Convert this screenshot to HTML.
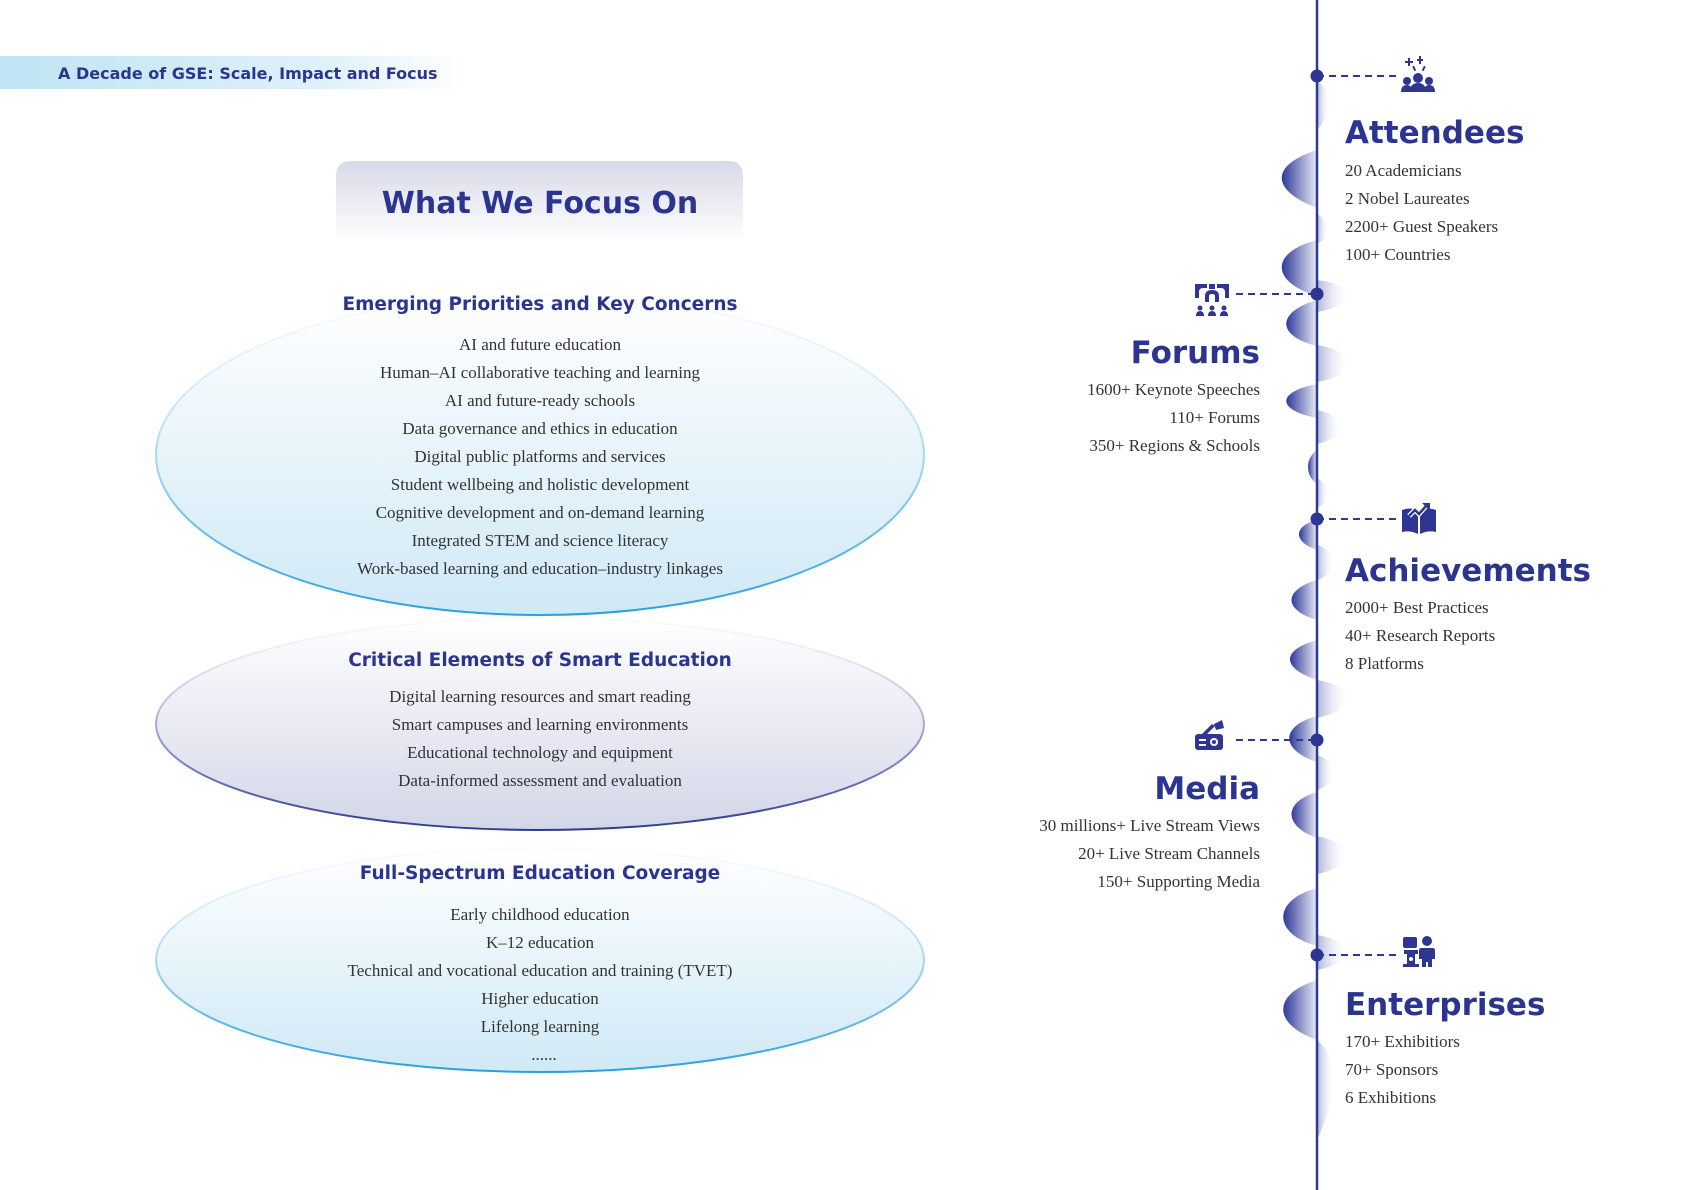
<!DOCTYPE html>
<html><head><meta charset="utf-8"><style>
html,body{margin:0;padding:0;background:#fff;}
svg{display:block}
.h{font-family:"DejaVu Sans","Liberation Sans",sans-serif;font-weight:bold;fill:#2b3590}
.t{font-family:"Liberation Serif",serif;font-size:17px;fill:#333}
</style></head><body>
<svg width="1684" height="1190" viewBox="0 0 1684 1190" xmlns="http://www.w3.org/2000/svg">
<defs>
<linearGradient id="band" x1="0" x2="1"><stop offset="0" stop-color="#bfe4f4"/><stop offset="0.7" stop-color="#dff1fa"/><stop offset="1" stop-color="#ffffff"/></linearGradient>
<linearGradient id="tbox" x1="0" y1="0" x2="0" y2="1"><stop offset="0" stop-color="#d7d9e8"/><stop offset="1" stop-color="#ffffff"/></linearGradient>
<linearGradient id="e1" x1="0" y1="0" x2="0" y2="1"><stop offset="0" stop-color="#ffffff"/><stop offset="1" stop-color="#cfe9f6"/></linearGradient>
<linearGradient id="e2" x1="0" y1="0" x2="0" y2="1"><stop offset="0" stop-color="#ffffff"/><stop offset="1" stop-color="#d3d6e8"/></linearGradient>
<linearGradient id="s1" x1="0" y1="0" x2="0" y2="1"><stop offset="0" stop-color="#e6f2fa" stop-opacity="0.2"/><stop offset="0.5" stop-color="#a9d7ef"/><stop offset="1" stop-color="#2aa0dc"/></linearGradient>
<linearGradient id="s2" x1="0" y1="0" x2="0" y2="1"><stop offset="0" stop-color="#eeeef6" stop-opacity="0.2"/><stop offset="0.5" stop-color="#a7abd4"/><stop offset="1" stop-color="#2e3a92"/></linearGradient>
<linearGradient id="lg" x1="0" x2="1"><stop offset="0" stop-color="#2e3a9a"/><stop offset="1" stop-color="#2e3a9a" stop-opacity="0.1"/></linearGradient>
<linearGradient id="rg" x1="0" x2="1"><stop offset="0" stop-color="#9aa0d0" stop-opacity="0.8"/><stop offset="1" stop-color="#ffffff" stop-opacity="0"/></linearGradient>
</defs>

<rect x="0" y="56" width="464" height="33" fill="url(#band)"/>
<text x="58" y="79" class="h" font-size="16">A Decade of GSE: Scale, Impact and Focus</text>

<path d="M336 242 V176 Q336 161 351 161 H728 Q743 161 743 176 V242 Z" fill="url(#tbox)"/>
<text x="540" y="213" class="h" font-size="30" text-anchor="middle">What We Focus On</text>

<ellipse cx="540" cy="455" rx="384" ry="160" fill="url(#e1)" stroke="url(#s1)" stroke-width="2"/>
<ellipse cx="540" cy="724" rx="384" ry="106" fill="url(#e2)" stroke="url(#s2)" stroke-width="2"/>
<ellipse cx="540" cy="960" rx="384" ry="112" fill="url(#e1)" stroke="url(#s1)" stroke-width="2"/>

<g text-anchor="middle">
<text x="540" y="310" class="h" font-size="18.5">Emerging Priorities and Key Concerns</text>
<g class="t">
<text x="540" y="350">AI and future education</text>
<text x="540" y="378">Human–AI collaborative teaching and learning</text>
<text x="540" y="406">AI and future-ready schools</text>
<text x="540" y="434">Data governance and ethics in education</text>
<text x="540" y="462">Digital public platforms and services</text>
<text x="540" y="490">Student wellbeing and holistic development</text>
<text x="540" y="518">Cognitive development and on-demand learning</text>
<text x="540" y="546">Integrated STEM and science literacy</text>
<text x="540" y="574">Work-based learning and education–industry linkages</text>
</g>
<text x="540" y="666" class="h" font-size="18.5">Critical Elements of Smart Education</text>
<g class="t">
<text x="540" y="702">Digital learning resources and smart reading</text>
<text x="540" y="730">Smart campuses and learning environments</text>
<text x="540" y="758">Educational technology and equipment</text>
<text x="540" y="786">Data-informed assessment and evaluation</text>
</g>
<text x="540" y="879" class="h" font-size="18.5">Full-Spectrum Education Coverage</text>
<g class="t">
<text x="540" y="920">Early childhood education</text>
<text x="540" y="948">K–12 education</text>
<text x="540" y="976">Technical and vocational education and training (TVET)</text>
<text x="540" y="1004">Higher education</text>
<text x="540" y="1032">Lifelong learning</text>
<text x="544" y="1060">......</text>
</g>
</g>

<g id="waves">
<path d="M1317 150 C1270 165 1270 190 1317 208 Z" fill="url(#lg)"/>
<path d="M1317 240 C1270 252 1270 282 1317 296 Z" fill="url(#lg)"/>
<path d="M1317 300 C1276 312 1276 336 1317 346 Z" fill="url(#lg)"/>
<path d="M1317 384 C1276 392 1276 410 1317 418 Z" fill="url(#lg)"/>
<path d="M1317 450 C1305 458 1305 476 1317 484 Z" fill="url(#lg)"/>
<path d="M1317 520 C1293 526 1293 542 1317 550 Z" fill="url(#lg)"/>
<path d="M1317 580 C1283 590 1283 610 1317 620 Z" fill="url(#lg)"/>
<path d="M1317 640 C1281 650 1281 668 1317 680 Z" fill="url(#lg)"/>
<path d="M1317 716 C1280 726 1280 750 1317 762 Z" fill="url(#lg)"/>
<path d="M1317 792 C1283 802 1283 826 1317 838 Z" fill="url(#lg)"/>
<path d="M1317 888 C1272 900 1272 934 1317 946 Z" fill="url(#lg)"/>
<path d="M1317 980 C1272 994 1272 1024 1317 1040 Z" fill="url(#lg)"/>
<path d="M1317 80 C1334 95 1334 110 1317 130 Z" fill="url(#rg)"/>
<path d="M1317 214 C1332 222 1332 236 1317 244 Z" fill="url(#rg)"/>
<path d="M1317 280 C1360 286 1360 304 1317 312 Z" fill="url(#rg)"/>
<path d="M1317 345 C1360 352 1360 374 1317 382 Z" fill="url(#rg)"/>
<path d="M1317 410 C1350 418 1350 436 1317 444 Z" fill="url(#rg)"/>
<path d="M1317 478 C1332 486 1332 500 1317 508 Z" fill="url(#rg)"/>
<path d="M1317 545 C1340 552 1340 572 1317 580 Z" fill="url(#rg)"/>
<path d="M1317 680 C1360 688 1360 708 1317 718 Z" fill="url(#rg)"/>
<path d="M1317 755 C1340 762 1340 782 1317 790 Z" fill="url(#rg)"/>
<path d="M1317 836 C1357 844 1357 866 1317 874 Z" fill="url(#rg)"/>
<path d="M1317 935 C1357 942 1357 962 1317 970 Z" fill="url(#rg)"/>
<path d="M1317 1040 C1340 1060 1340 1090 1317 1140 Z" fill="url(#rg)"/>
</g>

<line x1="1317" y1="0" x2="1317" y2="1190" stroke="#2e3a92" stroke-width="2.5"/>
<g stroke="#2e3a92" stroke-width="2" stroke-dasharray="7 5">
<line x1="1317" y1="76" x2="1396" y2="76"/>
<line x1="1236" y1="294" x2="1317" y2="294"/>
<line x1="1317" y1="519" x2="1396" y2="519"/>
<line x1="1236" y1="740" x2="1317" y2="740"/>
<line x1="1317" y1="955" x2="1396" y2="955"/>
</g>
<g fill="#2e3592">
<circle cx="1317" cy="76" r="6.5"/>
<circle cx="1317" cy="294" r="6.5"/>
<circle cx="1317" cy="519" r="6.5"/>
<circle cx="1317" cy="740" r="6.5"/>
<circle cx="1317" cy="955" r="6.5"/>
</g>

<g fill="#2e3592">
<g transform="translate(1418,78)">
<path d="M-13 -17 h3 v-3 h2 v3 h3 v2 h-3 v3 h-2 v-3 h-3z"/>
<path d="M-1 -19 h2 v-3 h2 v3 h2 v2 h-2 v3 h-2 v-3 h-2z"/>
<rect x="-5" y="-12" width="2" height="5" transform="rotate(-25 -4 -10)"/>
<rect x="5" y="-12" width="2" height="5" transform="rotate(25 6 -10)"/>
<circle cx="0" cy="0" r="5"/><path d="M-8 14 Q-8 5 0 5 Q8 5 8 14Z"/>
<circle cx="-11" cy="3" r="4"/><path d="M-17 14 Q-17 7 -11 7 Q-6 7 -6 14Z"/>
<circle cx="11" cy="3" r="4"/><path d="M6 14 Q6 7 11 7 Q17 7 17 14Z"/>
</g>
<g transform="translate(1212,300)">
<path d="M-17 -16 h12 v4 h-4 q-4 0 -4 4 v6 h-4z"/>
<path d="M17 -16 h-12 v4 h4 q4 0 4 4 v6 h4z"/>
<path d="M-3 -16 h6 v5 h-6z"/>
<path d="M-7 2 v-6 q0 -6 7 -6 q7 0 7 6 v6 h-4 v-6 q0 -2 -3 -2 q-3 0 -3 2 v6z"/>
<circle cx="-12" cy="8" r="2.5"/><path d="M-16 16 q0 -5 4 -5 q4 0 4 5z"/>
<circle cx="0" cy="8" r="2.5"/><path d="M-4 16 q0 -5 4 -5 q4 0 4 5z"/>
<circle cx="12" cy="8" r="2.5"/><path d="M8 16 q0 -5 4 -5 q4 0 4 5z"/>
</g>
<g transform="translate(1419,520)">
<path d="M-17 -10 v22 q8 -2 16 2 v-24 q-8 -3 -16 0z"/>
<path d="M17 -10 v22 q-8 -2 -16 2 v-24 q8 -3 16 0z"/>
<path d="M-10 -4 l6 -6 l4 4 l7 -8" stroke="#fff" stroke-width="5" fill="none"/>
<path d="M-10 -4 l6 -6 l4 4 l7 -8" stroke="#2e3592" stroke-width="2.5" fill="none"/>
<path d="M3 -17 h8 v8z"/>
</g>
<g transform="translate(1210,740)">
<rect x="-15" y="-6" width="28" height="16" rx="3"/>
<path d="M-8 -6 l10 -10 l3 2 l-8 8z"/>
<path d="M4 -16 l8 -4 l2 8 l-8 2z"/>
<circle cx="4" cy="2" r="4" fill="#fff"/><circle cx="4" cy="2" r="2"/>
<rect x="-11" y="-1" width="7" height="2" fill="#fff"/><rect x="-11" y="4" width="7" height="2" fill="#fff"/>
</g>
<g transform="translate(1418,955)">
<rect x="-15" y="-18" width="14" height="11" rx="2"/>
<rect x="-14" y="-5" width="14" height="4"/>
<rect x="-11" y="-1" width="8" height="10"/><circle cx="-7" cy="4" r="2" fill="#fff"/>
<rect x="-15" y="9" width="16" height="3"/>
<circle cx="9" cy="-14" r="5"/>
<path d="M3 -7 h12 q2 0 2 3 v8 h-3 v8 h-4 v-5 h-2 v5 h-4 v-8 h-3 v-8 q0 -3 2 -3z"/>
</g>
</g>

<g class="h" font-size="31">
<text x="1345" y="143">Attendees</text>
<text x="1260" y="363" text-anchor="end">Forums</text>
<text x="1345" y="581">Achievements</text>
<text x="1260" y="799" text-anchor="end">Media</text>
<text x="1345" y="1015">Enterprises</text>
</g>
<g class="t">
<text x="1345" y="176">20 Academicians</text>
<text x="1345" y="204">2 Nobel Laureates</text>
<text x="1345" y="232">2200+ Guest Speakers</text>
<text x="1345" y="260">100+ Countries</text>
<g text-anchor="end">
<text x="1260" y="395">1600+ Keynote Speeches</text>
<text x="1260" y="423">110+ Forums</text>
<text x="1260" y="451">350+ Regions &amp; Schools</text>
</g>
<text x="1345" y="613">2000+ Best Practices</text>
<text x="1345" y="641">40+ Research Reports</text>
<text x="1345" y="669">8 Platforms</text>
<g text-anchor="end">
<text x="1260" y="831">30 millions+ Live Stream Views</text>
<text x="1260" y="859">20+ Live Stream Channels</text>
<text x="1260" y="887">150+ Supporting Media</text>
</g>
<text x="1345" y="1047">170+ Exhibitiors</text>
<text x="1345" y="1075">70+ Sponsors</text>
<text x="1345" y="1103">6 Exhibitions</text>
</g>
</svg>
</body></html>
